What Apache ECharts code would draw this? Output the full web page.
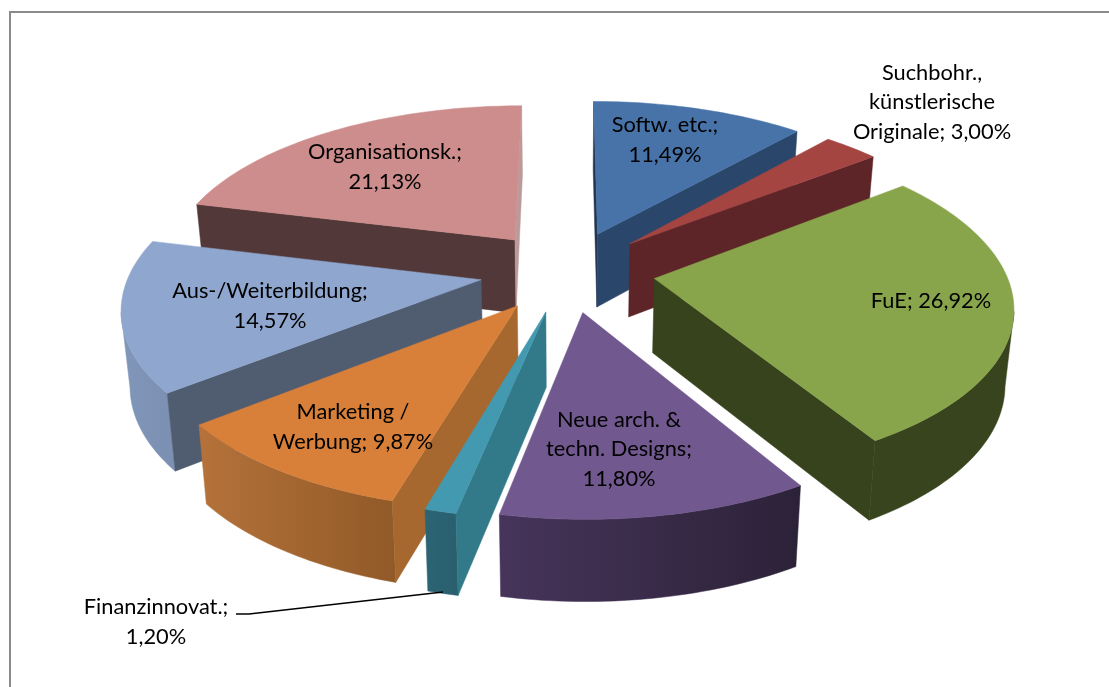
<!DOCTYPE html>
<html>
<head>
<meta charset="utf-8">
<style>html,body{margin:0;padding:0;background:#fff}#c{width:1109px;height:687px}</style>
<script src="https://cdn.jsdelivr.net/npm/echarts@6/dist/echarts.min.js"></script>
</head>
<body>
<div id="c"></div>
<script>
const categories = ['Softw. etc.', 'Suchbohr., künstlerische Originale', 'FuE', 'Neue arch. & techn. Designs', 'Finanzinnovat.', 'Marketing / Werbung', 'Aus-/Weiterbildung', 'Organisationsk.'];
const shares = [11.49, 3.00, 26.92, 11.80, 1.20, 9.87, 14.57, 21.13];
const labelTexts = ['Softw. etc.;\n11,49%', 'Suchbohr.,\nkünstlerische\nOriginale; 3,00%', 'FuE; 26,92%', 'Neue arch. &\ntechn. Designs;\n11,80%', 'Finanzinnovat.;\n1,20%', 'Marketing /\nWerbung; 9,87%', 'Aus-/Weiterbildung;\n14,57%', 'Organisationsk.;\n21,13%'];

const topColors = ['#4773A8', '#A54542', '#88A54B', '#71588F', '#4299B0', '#D8803A', '#8FA6CE', '#CE8D8D'];
const startCutColors = ['#22344E', '#5D2527', '#37431C', '#33264A', '#327A89', '#A6682E', '#505C70', '#523839'];
const endCutColors = ['#2A476B', '#5D2527', '#37431C', '#33264A', '#327A89', '#A6682E', '#505C70', '#BD9A9A'];
const wallFrom = ['#2A476B', '#5D2527', '#38441D', '#46345A', '#2B6473', '#B5723A', '#8197BA', '#523839'];
const wallTo = ['#2A476B', '#5D2527', '#38441D', '#2C2238', '#2A5F6E', '#915A28', '#7B90B3', '#523839'];
const labelCenters = [[665, 140], [932, 102], [931, 301], [619, 449], [156, 622], [353, 427], [270, 306], [385, 167]];
const leaderLine = [[236, 614], [249, 614], [443, 592]];

// Projection of the tilted, exploded pie
const cx = 567.5, cy = 271, R = 351, explode = 0.25, persp = 0.148, tilt = 162.5, depthBase = 38, depthScale = 36, shrink = 0.02;
function project(u, v, z) {
  const s = 1 / (1 - persp * v);
  return [cx + R * u * s * (1 - shrink * z), cy + tilt * v * s + (depthBase + depthScale * s) * z];
}
const total = shares.reduce((a, b) => a + b, 0);
let acc = 0;
const wedges = shares.map(val => {
  const a0 = acc / total * 2 * Math.PI;
  acc += val;
  const a1 = acc / total * 2 * Math.PI;
  const m = (a0 + a1) / 2;
  return { a0, a1, ox: explode * Math.sin(m), oy: -explode * Math.cos(m) };
});
const rank = wedges.map((w, i) => [w.oy, i]).sort((a, b) => a[0] - b[0]).reduce((o, p, r) => (o[p[1]] = r, o), {});

function renderSlice(params, api) {
  const i = params.dataIndex;
  const w = wedges[i];
  const baseZ = (rank[i] + 1) * 10;
  const n = Math.max(4, Math.ceil((w.a1 - w.a0) / 0.02));
  const rim = [];
  for (let k = 0; k <= n; k++) {
    const a = w.a0 + (w.a1 - w.a0) * k / n;
    rim.push([w.ox + Math.sin(a), w.oy - Math.cos(a)]);
  }
  const P = (q, z) => project(q[0], q[1], z);
  const apex = [w.ox, w.oy];
  const children = [];
  const poly = (points, fill, z2) => children.push({
    type: 'polygon', shape: { points }, style: { fill, stroke: fill, lineWidth: 0.5 }, z2
  });
  // outer wall: only the run of the rim that faces the viewer
  let run = [];
  const flush = () => {
    if (run.length > 1) {
      const up = run.map(q => P(q, 0));
      const dn = run.map(q => P(q, 1)).reverse();
      const xs = up.map(p => p[0]);
      const l = Math.min(...xs), r = Math.max(...xs);
      poly(up.concat(dn), new echarts.graphic.LinearGradient(l, 0, r, 0,
        [{ offset: 0, color: wallFrom[i] }, { offset: 1, color: wallTo[i] }], true), baseZ);
    }
    run = [];
  };
  for (let k = 0; k < n; k++) {
    if (P(rim[k + 1], 0)[0] < P(rim[k], 0)[0]) {
      if (!run.length) run.push(rim[k]);
      run.push(rim[k + 1]);
    } else flush();
  }
  flush();
  // straight cut faces
  const first = rim[0], last = rim[n];
  if (P(first, 0)[0] < P(apex, 0)[0]) poly([P(apex, 0), P(first, 0), P(first, 1), P(apex, 1)], startCutColors[i], baseZ + 1);
  if (P(apex, 0)[0] < P(last, 0)[0]) poly([P(last, 0), P(apex, 0), P(apex, 1), P(last, 1)], endCutColors[i], baseZ + 1);
  // top surface
  poly([P(apex, 0)].concat(rim.map(q => P(q, 0))), topColors[i], baseZ + 2);
  // label
  children.push({
    type: 'text', z2: 1000,
    style: {
      x: labelCenters[i][0], y: labelCenters[i][1], text: labelTexts[i],
      fill: '#000', font: '21.8px Lato, "Open Sans", sans-serif',
      align: 'center', verticalAlign: 'middle', lineHeight: 29.5
    }
  });
  if (categories[i] === 'Finanzinnovat.') {
    children.push({ type: 'polyline', z2: 1001, shape: { points: leaderLine }, style: { stroke: '#000', lineWidth: 1.7, fill: 'none' } });
  }
  return { type: 'group', children };
}

const chart = echarts.init(document.getElementById('c'), null, { renderer: 'canvas' });
chart.setOption({
  animation: false,
  backgroundColor: '#fff',
  graphic: [{
    type: 'polyline', silent: true,
    shape: { points: [[10, 690], [10, 12], [1112, 12]] },
    style: { stroke: '#8a8a8a', lineWidth: 2, fill: 'none' }
  }],
  series: [{
    type: 'custom',
    coordinateSystem: 'none',
    renderItem: renderSlice,
    data: categories.map((c, i) => ({ name: c, value: [i, shares[i]] })),
    silent: true
  }]
});
</script>
</body>
</html>
